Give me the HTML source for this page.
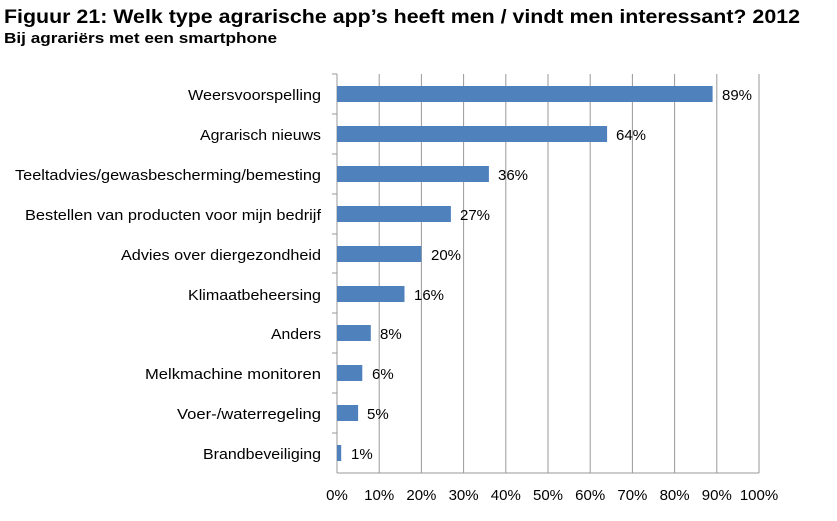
<!DOCTYPE html>
<html><head><style>body{margin:0;background:#fff}</style></head><body>
<svg width="837" height="516" xmlns="http://www.w3.org/2000/svg" font-family="Liberation Sans, sans-serif">
<text x="4" y="23" font-size="19" font-weight="bold" fill="#000" textLength="796" lengthAdjust="spacingAndGlyphs">Figuur 21: Welk type agrarische app’s heeft men / vindt men interessant? 2012</text>
<text x="4" y="43" font-size="15" font-weight="bold" fill="#000" textLength="273" lengthAdjust="spacingAndGlyphs">Bij agrariërs met een smartphone</text>
<g stroke="#999" stroke-width="1">
<line x1="379.2" y1="74" x2="379.2" y2="473"/><line x1="421.4" y1="74" x2="421.4" y2="473"/><line x1="463.6" y1="74" x2="463.6" y2="473"/><line x1="505.8" y1="74" x2="505.8" y2="473"/><line x1="548" y1="74" x2="548" y2="473"/><line x1="590.2" y1="74" x2="590.2" y2="473"/><line x1="632.4" y1="74" x2="632.4" y2="473"/><line x1="674.6" y1="74" x2="674.6" y2="473"/><line x1="716.8" y1="74" x2="716.8" y2="473"/><line x1="759" y1="74" x2="759" y2="473"/>
<line x1="337" y1="74" x2="337" y2="473"/><line x1="337" y1="473" x2="759" y2="473"/>
<line x1="332" y1="74" x2="337" y2="74"/><line x1="332" y1="114" x2="337" y2="114"/><line x1="332" y1="154" x2="337" y2="154"/><line x1="332" y1="194" x2="337" y2="194"/><line x1="332" y1="234" x2="337" y2="234"/><line x1="332" y1="273" x2="337" y2="273"/><line x1="332" y1="313" x2="337" y2="313"/><line x1="332" y1="353" x2="337" y2="353"/><line x1="332" y1="393" x2="337" y2="393"/><line x1="332" y1="433" x2="337" y2="433"/>
</g>
<g fill="#4f81bd">
<rect x="337" y="86" width="375.6" height="16"/>
<rect x="337" y="126" width="270.1" height="16"/>
<rect x="337" y="166" width="151.9" height="16"/>
<rect x="337" y="206" width="113.9" height="16"/>
<rect x="337" y="246" width="84.4" height="16"/>
<rect x="337" y="286" width="67.5" height="16"/>
<rect x="337" y="325" width="33.8" height="16"/>
<rect x="337" y="365" width="25.3" height="16"/>
<rect x="337" y="405" width="21.1" height="16"/>
<rect x="337" y="445" width="4.2" height="16"/>
</g>
<g font-size="15" fill="#000" lengthAdjust="spacingAndGlyphs">
<text x="188" y="100" textLength="133" lengthAdjust="spacingAndGlyphs">Weersvoorspelling</text>
<text x="200" y="140" textLength="121" lengthAdjust="spacingAndGlyphs">Agrarisch nieuws</text>
<text x="15" y="180" textLength="306" lengthAdjust="spacingAndGlyphs">Teeltadvies/gewasbescherming/bemesting</text>
<text x="25" y="220" textLength="296" lengthAdjust="spacingAndGlyphs">Bestellen van producten voor mijn bedrijf</text>
<text x="121" y="260" textLength="200" lengthAdjust="spacingAndGlyphs">Advies over diergezondheid</text>
<text x="188" y="300" textLength="133" lengthAdjust="spacingAndGlyphs">Klimaatbeheersing</text>
<text x="271" y="339" textLength="50" lengthAdjust="spacingAndGlyphs">Anders</text>
<text x="145" y="379" textLength="176" lengthAdjust="spacingAndGlyphs">Melkmachine monitoren</text>
<text x="177" y="419" textLength="144" lengthAdjust="spacingAndGlyphs">Voer-/waterregeling</text>
<text x="203" y="459" textLength="118" lengthAdjust="spacingAndGlyphs">Brandbeveiliging</text>
</g>
<g font-size="15" fill="#000">
<text x="722" y="100">89%</text>
<text x="616" y="140">64%</text>
<text x="498" y="180">36%</text>
<text x="460" y="220">27%</text>
<text x="431" y="260">20%</text>
<text x="414" y="300">16%</text>
<text x="380" y="339">8%</text>
<text x="372" y="379">6%</text>
<text x="367" y="419">5%</text>
<text x="351" y="459">1%</text>
</g>
<g font-size="15" fill="#000" text-anchor="middle">
<text x="337" y="500">0%</text><text x="379.2" y="500">10%</text><text x="421.4" y="500">20%</text><text x="463.6" y="500">30%</text><text x="505.8" y="500">40%</text><text x="548" y="500">50%</text><text x="590.2" y="500">60%</text><text x="632.4" y="500">70%</text><text x="674.6" y="500">80%</text><text x="716.8" y="500">90%</text><text x="759" y="500">100%</text>
</g>
</svg>
</body></html>
